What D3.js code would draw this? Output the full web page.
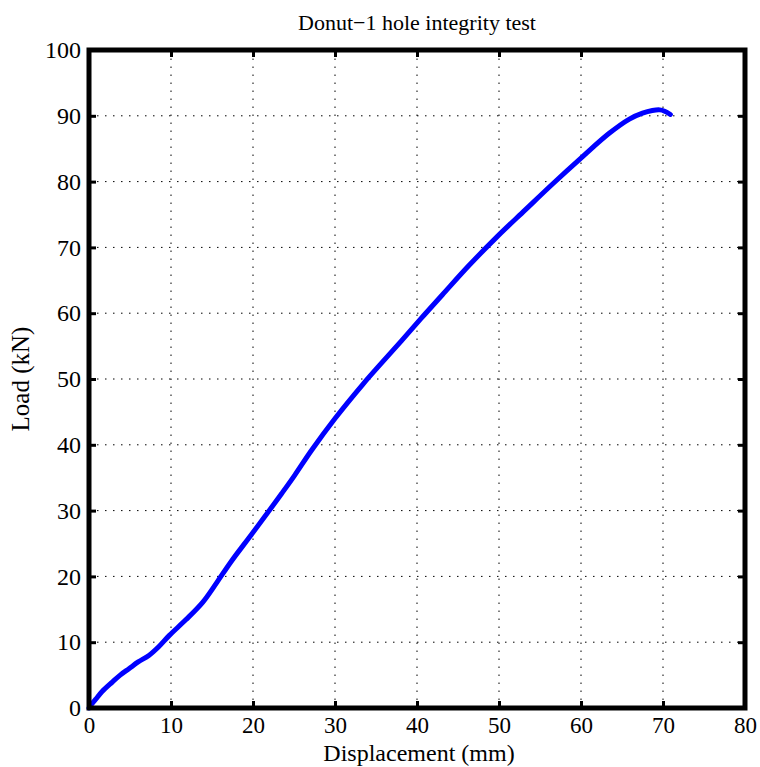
<!DOCTYPE html>
<html><head><meta charset="utf-8">
<script src="https://cdn.jsdelivr.net/npm/d3@7"></script>
<style>body{margin:0;background:#fff}svg{display:block}</style>
</head><body>
<script>
const xTicks = [0,10,20,30,40,50,60,70,80];
const yTicks = [0,10,20,30,40,50,60,70,80,90,100];
const displacement = [0,0.2,0.8,1.6,2.84,3.8,4.87,6.0,7.3,8.5,9.77,11.8,13.86,15.6,17.3,19.77,21.8,23.5,25.1,27.1,30.0,33.4,35.8,38.1,40.5,43.1,46.3,49.75,53.2,56.5,60.2,63.4,65.9,67.5,68.7,69.6,70.2,70.9];
const load = [0,0.4,1.3,2.5,3.94,5.0,5.97,7.0,7.98,9.3,11.0,13.4,16.06,19.1,22.2,26.3,29.7,32.6,35.4,39.1,44.0,49.2,52.6,55.8,59.2,62.8,67.2,71.6,75.7,79.6,83.8,87.3,89.5,90.4,90.8,90.9,90.7,90.2];
const title = "Donut\u22121 hole integrity test";
const xLabel = "Displacement (mm)";
const yLabel = "Load (kN)";

const W = 760, H = 767;
const L = 89, R = 745, T = 50, B = 708;
const FONT = '"Liberation Serif","Times New Roman",serif';
const svg = d3.select("body").append("svg").attr("width", W).attr("height", H);
const x = d3.scaleLinear().domain([0,80]).range([L,R]);
const y = d3.scaleLinear().domain([0,100]).range([B,T]);

// grid
const grid = svg.append("g").attr("stroke","#000").attr("stroke-width",1).attr("stroke-dasharray","1.5,6.5");
grid.selectAll(".gx").data(xTicks.filter(d=>d>0&&d<80)).join("line")
  .attr("x1",d=>x(d)).attr("x2",d=>x(d)).attr("y1",B).attr("y2",T);
grid.selectAll(".gy").data(yTicks.filter(d=>d>0&&d<100)).join("line")
  .attr("y1",d=>y(d)).attr("y2",d=>y(d)).attr("x1",L).attr("x2",R);

// data line
const line = d3.line().x((d,i)=>x(displacement[i])).y((d,i)=>y(load[i])).curve(d3.curveCatmullRom);
svg.append("path").datum(load).attr("d",line).attr("fill","none")
  .attr("stroke","#0000ff").attr("stroke-width",5).attr("stroke-linecap","round").attr("stroke-linejoin","round");

// axes (box style with inward ticks)
const axB = d3.axisBottom(x).tickValues(xTicks).tickSizeInner(-7).tickSizeOuter(0).tickPadding(9);
const axL = d3.axisLeft(y).tickValues(yTicks).tickSizeInner(-7).tickSizeOuter(0).tickPadding(8);
const axT = d3.axisTop(x).tickValues(xTicks).tickSizeInner(-7).tickSizeOuter(0).tickFormat("");
const axR = d3.axisRight(y).tickValues(yTicks).tickSizeInner(-7).tickSizeOuter(0).tickFormat("");
function style(g, fs){
  g.attr("font-family", null).attr("font-size", null);
  g.select(".domain").remove();
  g.selectAll(".tick line").attr("stroke","#000").attr("stroke-width",3);
  g.selectAll(".tick text").style("font-family",FONT).style("font-size",fs+"px").attr("fill","#000");
}
svg.append("g").attr("transform",`translate(0,${B})`).call(axB).call(style, 23);
svg.append("g").attr("transform",`translate(${L},0)`).call(axL).call(style, 24);
svg.append("g").attr("transform",`translate(0,${T})`).call(axT).call(style, 24);
svg.append("g").attr("transform",`translate(${R},0)`).call(axR).call(style, 24);

// box
svg.append("rect").attr("x",L).attr("y",T).attr("width",R-L).attr("height",B-T)
  .attr("fill","none").attr("stroke","#000").attr("stroke-width",5);

// labels
svg.append("text").attr("x",(L+R)/2).attr("y",30).attr("text-anchor","middle")
  .style("font-family",FONT).style("font-size","22px").text(title);
svg.append("text").attr("x",(L+R)/2 + 2).attr("y",761).attr("text-anchor","middle")
  .style("font-family",FONT).style("font-size","24px").text(xLabel);
svg.append("text").attr("transform",`translate(29,${(T+B)/2}) rotate(-90)`).attr("text-anchor","middle")
  .style("font-family",FONT).style("font-size","25px").text(yLabel);
</script>
</body></html>
